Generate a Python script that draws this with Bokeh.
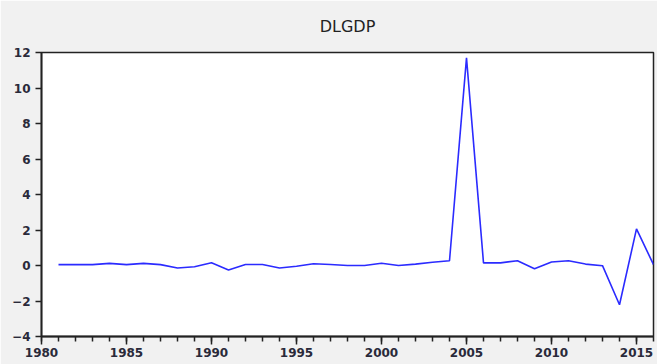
from bokeh.plotting import figure
from bokeh.models import Range1d, SingleIntervalTicker
from bokeh.embed import file_html
from bokeh.resources import INLINE

# Annual log-difference of GDP
years = list(range(1981, 2017))
dlgdp = [0.05, 0.05, 0.05, 0.12, 0.05, 0.12, 0.05, -0.14, -0.07, 0.15,
         -0.25, 0.06, 0.06, -0.14, -0.04, 0.10, 0.06, 0.00, 0.00, 0.13,
         0.00, 0.08, 0.18, 0.27, 11.70, 0.15, 0.15, 0.27, -0.18, 0.20,
         0.27, 0.08, -0.01, -2.21, 2.06, 0.05]

x_ticks_interval = 5
y_ticks_interval = 2

p = figure(width=657, height=364, output_backend="svg", toolbar_location=None,
           x_range=Range1d(1980, 2016), y_range=Range1d(-4, 12),
           min_border_left=41, min_border_right=4, min_border_top=52,
           min_border_bottom=28)

p.title.text = "DLGDP"
p.title.align = "center"
p.title.vertical_align = "top"
p.title.text_font = "DejaVu Sans"
p.title.text_font_size = "16px"
p.title.text_font_style = "normal"
p.title.text_color = "#222222"
p.title.offset = 0
p.title.standoff = 30

p.border_fill_color = "#f1f1f1"
p.background_fill_color = "white"
p.outline_line_color = "#222222"
p.outline_line_width = 1.5
p.xgrid.visible = False
p.ygrid.visible = False

p.line(years, dlgdp, line_color="#2b2bff", line_width=1.6)

p.xaxis.ticker = SingleIntervalTicker(interval=x_ticks_interval, num_minor_ticks=5)
p.yaxis.ticker = SingleIntervalTicker(interval=y_ticks_interval, num_minor_ticks=0)

for ax in (p.xaxis[0], p.yaxis[0]):
    ax.axis_line_color = "#222222"
    ax.axis_line_width = 1.8
    ax.major_tick_line_color = "#222222"
    ax.minor_tick_line_color = "#222222"
    ax.major_tick_line_width = 1.5
    ax.minor_tick_line_width = 1.5
    ax.major_tick_in = 0
    ax.minor_tick_in = 0
    ax.major_label_text_font = "DejaVu Sans"
    ax.major_label_text_font_size = "12px"
    ax.major_label_text_font_style = "bold"
    ax.major_label_text_color = "#2a2a3a"

p.xaxis.major_tick_out = 8
p.xaxis.minor_tick_out = 5
p.xaxis.major_label_standoff = 3
p.yaxis.major_tick_out = 6
p.yaxis.major_label_standoff = 5

open("out.html", "w").write(file_html(p, INLINE))
